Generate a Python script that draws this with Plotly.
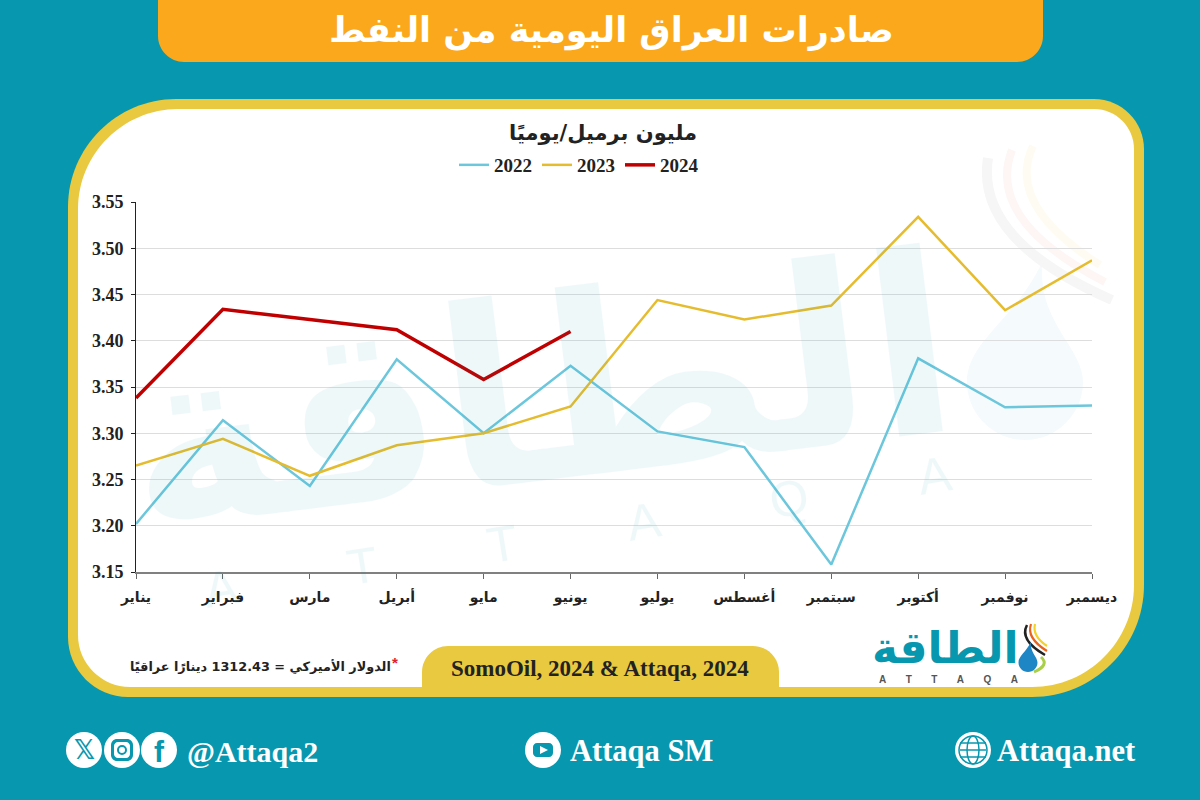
import plotly.graph_objects as go

months = ["يناير", "فبراير", "مارس", "أبريل", "مايو", "يونيو", "يوليو", "أغسطس", "سبتمبر", "أكتوبر", "نوفمبر", "ديسمبر"]
values_2022 = [3.202, 3.314, 3.243, 3.380, 3.300, 3.373, 3.302, 3.285, 3.158, 3.381, 3.328, 3.330]
values_2023 = [3.265, 3.294, 3.254, 3.287, 3.300, 3.329, 3.444, 3.423, 3.438, 3.534, 3.433, 3.487]
values_2024 = [3.338, 3.434, 3.423, 3.412, 3.358, 3.410]
y_ticks = [3.15, 3.20, 3.25, 3.30, 3.35, 3.40, 3.45, 3.50, 3.55]

W, H = 1200, 800
TEAL = "#0797AE"
GOLD = "#E9C93F"
ORANGE = "#FBA81C"
SERIF = "Liberation Serif, DejaVu Sans"
AR = "DejaVu Sans"
NB = "\u00a0"


def X(v):
    return v / W


def Y(v):
    return 1 - v / H


def P(x, y):
    return f"{X(x):.5f} {Y(y):.5f}"


def rr(x0, y0, x1, y1, tl, tr, br, bl):
    k = 0.45
    return (f"M {P(x0 + tl, y0)} L {P(x1 - tr, y0)} "
            f"C {P(x1 - tr * k, y0)} {P(x1, y0 + tr * k)} {P(x1, y0 + tr)} "
            f"L {P(x1, y1 - br)} C {P(x1, y1 - br * k)} {P(x1 - br * k, y1)} {P(x1 - br, y1)} "
            f"L {P(x0 + bl, y1)} C {P(x0 + bl * k, y1)} {P(x0, y1 - bl * k)} {P(x0, y1 - bl)} "
            f"L {P(x0, y0 + tl)} C {P(x0, y0 + tl * k)} {P(x0 + tl * k, y0)} {P(x0 + tl, y0)} Z")


shapes = []


def path(d, fill, layer="below"):
    shapes.append(dict(type="path", xref="paper", yref="paper", path=d, fillcolor=fill,
                       line=dict(width=0), layer=layer))


def stroke(d, color, width):
    shapes.append(dict(type="path", xref="paper", yref="paper", path=d, fillcolor="rgba(0,0,0,0)",
                       line=dict(width=width, color=color), layer="below"))


def circle(cx, cy, r, fill=None, line=None, lw=1):
    shapes.append(dict(type="circle", xref="paper", yref="paper", x0=X(cx - r), x1=X(cx + r),
                       y0=Y(cy + r), y1=Y(cy - r), fillcolor=fill or "rgba(0,0,0,0)",
                       line=dict(width=lw if line else 0, color=line or "rgba(0,0,0,0)"), layer="below"))


def drop(cx, top, bottom, hw, fill):
    mid = bottom - hw
    d = (f"M {P(cx + hw * 0.3, top)} C {P(cx + hw * 0.2, top + (mid - top) * 0.5)} {P(cx + hw, mid - hw * 0.6)} {P(cx + hw, mid)} "
         f"C {P(cx + hw, bottom - hw * 0.45)} {P(cx + hw * 0.55, bottom)} {P(cx, bottom)} "
         f"C {P(cx - hw * 0.55, bottom)} {P(cx - hw, bottom - hw * 0.45)} {P(cx - hw, mid)} "
         f"C {P(cx - hw, mid - hw * 0.7)} {P(cx - hw * 0.2, top + (mid - top) * 0.5)} {P(cx + hw * 0.3, top)} Z")
    path(d, fill)


path(rr(158, -2, 1043, 62, 0, 0, 26, 26), ORANGE)
path(rr(68, 99, 1144, 697, 108, 50, 112, 60), GOLD)
path(rr(78, 109, 1134, 687, 100, 40, 102, 52), "#FFFFFF")
path(rr(422, 646, 779, 687, 26, 26, 0, 0), GOLD)

# pale flame and drop of the watermark
drop(1025, 262, 440, 58, "#F5FAFC")
stroke(f"M {P(988, 158)} Q {P(975, 240)} {P(1112, 300)}", "#F6F6F7", 10)
stroke(f"M {P(1012, 150)} Q {P(985, 220)} {P(1105, 282)}", "#FDF6F4", 8)
stroke(f"M {P(1033, 146)} Q {P(1005, 205)} {P(1100, 265)}", "#FEFCF2", 8)

# logo mark
stroke(f"M {P(1027, 625)} Q {P(1019, 640)} {P(1045, 655)}", "#222222", 2.5)
stroke(f"M {P(1031, 624)} Q {P(1026, 638)} {P(1047, 651)}", "#E8641E", 2.2)
stroke(f"M {P(1035, 624)} Q {P(1032, 636)} {P(1047, 646)}", "#F5D12B", 2.2)
stroke(f"M {P(1041, 657)} Q {P(1050, 665)} {P(1034, 672)}", "#A8CF45", 3)
drop(1028, 642, 672, 9.5, "#1F86C6")

# social icons
circle(84, 750, 18, "#FFFFFF")
circle(122, 750, 18, "#FFFFFF")
circle(159, 750, 18, "#FFFFFF")
path(rr(111, 739, 133, 761, 6, 6, 6, 6), TEAL)
path(rr(114, 742, 130, 758, 4, 4, 4, 4), "#FFFFFF")
circle(122, 750, 4, None, TEAL, 2)
circle(543, 750, 18, "#FFFFFF")
path(rr(533, 743, 553, 757, 4, 4, 4, 4), TEAL)
path(f"M {P(540, 746)} L {P(548, 750)} L {P(540, 754)} Z", "#FFFFFF")
circle(973, 750, 18, "#FFFFFF")
circle(973, 750, 14, None, TEAL, 1.5)
shapes.append(dict(type="circle", xref="paper", yref="paper", x0=X(967), x1=X(979), y0=Y(764), y1=Y(736),
                   line=dict(width=1.5, color=TEAL), layer="below"))
for gy in (743, 750, 757):
    shapes.append(dict(type="line", xref="paper", yref="paper", x0=X(960), x1=X(986), y0=Y(gy), y1=Y(gy),
                       line=dict(width=1.5, color=TEAL), layer="below"))


def note(txt, x, y, size, color="#222222", family=SERIF, weight=700, **kw):
    d = dict(text=txt, x=X(x), y=Y(y), xref="paper", yref="paper", showarrow=False,
             font=dict(size=size, color=color, family=family, weight=weight),
             xanchor="center", yanchor="middle")
    d.update(kw)
    return d


wm_letters = (NB * 8).join("ATTAQA")
logo_letters = (NB * 7).join("ATTAQA")

annotations = [
    note("الطاقة", 540, 394, 250, "#0797AE", AR, textangle=-7, opacity=0.06),
    note(wm_letters, 578, 532, 50, "#0797AE", "Liberation Sans", 400, textangle=-9, opacity=0.06),
    note("صادرات العراق اليومية من النفط", 611, 31, 35, "#FFFFFF", AR),
    note("مليون برميل/يوميًا", 603, 133, 21, "#222222", AR),
    note("الدولار الأميركي = 1312.43 دينارًا عراقيًا", 260, 666, 12.8, "#222222", AR),
    note("*", 395, 662, 15, "#E0202A", "Liberation Sans"),
    note("SomoOil, 2024 & Attaqa, 2024", 600, 668, 23, "#222222"),
    note("الطاقة", 945, 647, 44, "#0797AE", AR),
    note(logo_letters, 948, 679, 10, "#555555", "Liberation Sans", 700),
    note("𝕏", 84, 750, 26, TEAL, "DejaVu Sans"),
    note("f", 159, 751, 30, TEAL, "Liberation Sans"),
    note("@Attaqa2", 252, 751, 30, "#FFFFFF"),
    note("Attaqa SM", 641, 751, 30.5, "#FFFFFF"),
    note("Attaqa.net", 1066, 751, 30.5, "#FFFFFF"),
]

fig = go.Figure()
fig.add_scatter(x=months, y=values_2022, mode="lines", name="2022", line=dict(color="#6CC7DC", width=2.5))
fig.add_scatter(x=months, y=values_2023, mode="lines", name="2023", line=dict(color="#E6BC2F", width=2.5))
fig.add_scatter(x=months[:len(values_2024)], y=values_2024, mode="lines", name="2024",
                line=dict(color="#C00000", width=3.5))

fig.update_layout(
    width=W, height=H, autosize=False, margin=dict(l=0, r=0, t=0, b=0),
    paper_bgcolor=TEAL, plot_bgcolor="rgba(0,0,0,0)",
    shapes=shapes, annotations=annotations,
    legend=dict(orientation="h", x=X(579), y=Y(165), xanchor="center", yanchor="middle",
                bgcolor="rgba(0,0,0,0)", itemwidth=30, traceorder="normal",
                font=dict(family=SERIF, size=19, color="#222222", weight=700)),
    xaxis=dict(domain=[X(136), X(1092)], type="category", categoryorder="array", categoryarray=months,
               range=[0, 11], tickmode="array", tickvals=months, ticktext=months, automargin=False,
               showgrid=False, showline=True, linecolor="#808080", linewidth=2, ticks="outside",
               ticklen=5, tickcolor="#666666", tickangle=0, zeroline=False, ticklabelstandoff=6,
               tickfont=dict(family=AR, size=14, color="#222222", weight=700)),
    yaxis=dict(domain=[Y(572), Y(202)], range=[3.15, 3.55], tickmode="array", tickvals=y_ticks,
               ticktext=[f"{v:.2f}" for v in y_ticks], automargin=False, showgrid=True,
               gridcolor="#DDDDDD", gridwidth=1, showline=True, linecolor="#222222", linewidth=1,
               ticks="outside", ticklen=4, tickcolor="#222222", zeroline=False, ticklabelstandoff=4,
               tickfont=dict(family=SERIF, size=18, color="#222222", weight=700)),
)

fig.write_html("out.html", post_script="document.body.style.margin='0';",
               config=dict(displayModeBar=False))
